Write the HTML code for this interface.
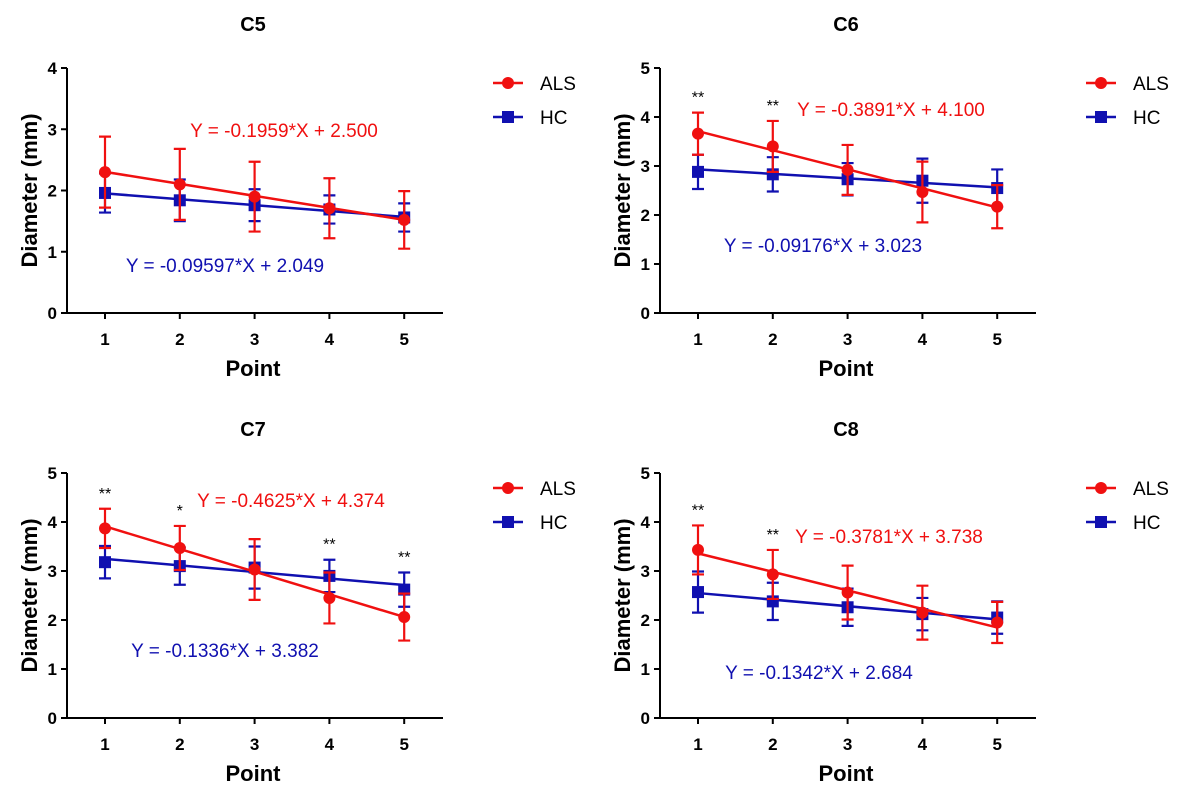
<!DOCTYPE html>
<html><head><meta charset="utf-8"><style>
body{margin:0;background:#fff;width:1183px;height:798px;overflow:hidden}
svg text{font-family:"Liberation Sans",Arial,sans-serif}
</style></head><body>
<svg id="fig" width="1183" height="798"></svg>
<script>
const points = [1,2,3,4,5];
const c5Als = [2.30,2.10,1.90,1.71,1.52];
const c5AlsSd = [0.58,0.58,0.57,0.49,0.47];
const c5Hc = [1.96,1.84,1.76,1.69,1.56];
const c5HcSd = [0.32,0.34,0.26,0.23,0.23];
const c6Als = [3.66,3.40,2.92,2.47,2.17];
const c6AlsSd = [0.43,0.52,0.51,0.62,0.44];
const c6Hc = [2.88,2.83,2.73,2.70,2.55];
const c6HcSd = [0.35,0.35,0.33,0.45,0.38];
const c7Als = [3.87,3.47,3.03,2.45,2.06];
const c7AlsSd = [0.40,0.45,0.62,0.52,0.48];
const c7Hc = [3.18,3.10,3.07,2.90,2.62];
const c7HcSd = [0.33,0.38,0.43,0.33,0.35];
const c8Als = [3.43,2.93,2.56,2.15,1.95];
const c8AlsSd = [0.50,0.50,0.55,0.55,0.42];
const c8Hc = [2.57,2.38,2.26,2.12,2.05];
const c8HcSd = [0.42,0.38,0.38,0.33,0.33];
const slopesAls = [-0.1959,-0.3891,-0.4625,-0.3781];
const interceptsAls = [2.500,4.100,4.374,3.738];
const slopesHc = [-0.09597,-0.09176,-0.1336,-0.1342];
const interceptsHc = [2.049,3.023,3.382,2.684];
const eqAls = ["Y = -0.1959*X + 2.500","Y = -0.3891*X + 4.100","Y = -0.4625*X + 4.374","Y = -0.3781*X + 3.738"];
const eqHc = ["Y = -0.09597*X + 2.049","Y = -0.09176*X + 3.023","Y = -0.1336*X + 3.382","Y = -0.1342*X + 2.684"];
const titles = ["C5","C6","C7","C8"];
const yMaxes = [4,5,5,5];
const stars = [["","","","",""],["**","**","","",""],["**","*","","**","**"],["**","**","","",""]];

const svg=document.getElementById('fig');
const NS='http://www.w3.org/2000/svg';
function el(tag,attrs,parent,txt){const e=document.createElementNS(NS,tag);for(const k in attrs)e.setAttribute(k,attrs[k]);if(txt!==undefined)e.textContent=txt;(parent||svg).appendChild(e);return e;}

const panels=[
 {ox:67,top:68,bot:313,als:c5Als,alsSd:c5AlsSd,hc:c5Hc,hcSd:c5HcSd,eqA:[284,137],eqH:[225,272]},
 {ox:660,top:68,bot:313,als:c6Als,alsSd:c6AlsSd,hc:c6Hc,hcSd:c6HcSd,eqA:[891,116],eqH:[823,252]},
 {ox:67,top:473,bot:718,als:c7Als,alsSd:c7AlsSd,hc:c7Hc,hcSd:c7HcSd,eqA:[291,507],eqH:[225,657]},
 {ox:660,top:473,bot:718,als:c8Als,alsSd:c8AlsSd,hc:c8Hc,hcSd:c8HcSd,eqA:[889,543],eqH:[819,679]}
];
panels.forEach((p,i)=>{
 const g=el('g',{});
 
 
 const ymax=yMaxes[i];
 const X=v=>p.ox+38+(v-1)*74.8;
 const Y=v=>p.bot-(v/ymax)*(p.bot-p.top);
 const t=el('text',{x:p.ox+186,y:p.top-37,'font-size':20,'font-weight':'bold','text-anchor':'middle'},g,titles[i]);
 
 const ax=el('path',{d:`M${p.ox} ${p.top}V${p.bot}H${p.ox+376}`,stroke:'#000','stroke-width':2,fill:'none'},g);
 
 for(let v=0;v<=ymax;v++){
  el('line',{x1:p.ox-6,x2:p.ox,y1:Y(v),y2:Y(v),stroke:'#000','stroke-width':2},g);
  const tl=el('text',{x:p.ox-10,y:Y(v)+6,'font-size':17,'font-weight':'bold','text-anchor':'end'},g,String(v));
  
 }
 points.forEach(v=>{
  el('line',{x1:X(v),x2:X(v),y1:p.bot,y2:p.bot+6,stroke:'#000','stroke-width':2},g);
  const tl=el('text',{x:X(v),y:p.bot+32,'font-size':17,'font-weight':'bold','text-anchor':'middle'},g,String(v));
  
 });
 const xt=el('text',{x:p.ox+186,y:p.bot+63,'font-size':22,'font-weight':'bold','text-anchor':'middle'},g,'Point');
 
 const cy=(p.top+p.bot)/2;
 const yt=el('text',{x:0,y:0,'font-size':22,'font-weight':'bold','text-anchor':'middle',transform:`translate(${p.ox-30},${cy}) rotate(-90)`},g,'Diameter (mm)');
 
 [['hc','#1010b0',slopesHc[i],interceptsHc[i]],['als','#f01010',slopesAls[i],interceptsAls[i]]].forEach(([s,col,m,b])=>{
  const vals=p[s],sd=p[s+'Sd'];
  const fit=el('line',{x1:X(1),x2:X(5),y1:Y(m*1+b),y2:Y(m*5+b),stroke:col,'stroke-width':2.5},g);
  
  points.forEach((pt,k)=>{
   const x=X(pt);
   const eb=el('path',{d:`M${x} ${Y(vals[k]-sd[k])}V${Y(vals[k]+sd[k])}M${x-6} ${Y(vals[k]-sd[k])}h12M${x-6} ${Y(vals[k]+sd[k])}h12`,stroke:col,'stroke-width':2.2,fill:'none'},g);
   
   let mk;
   if(s==='als') mk=el('circle',{cx:x,cy:Y(vals[k]),r:6,fill:col},g);
   else mk=el('rect',{x:x-6,y:Y(vals[k])-6,width:12,height:12,fill:col},g);
   
  });
 });
 points.forEach((pt,k)=>{
  if(!stars[i][k])return;
  const top=Math.max(p.als[k]+p.alsSd[k],p.hc[k]+p.hcSd[k]);
  const st=el('text',{x:X(pt),y:Y(top)-10,'font-size':16,'text-anchor':'middle'},g,stars[i][k]);
  
 });
 const ea=el('text',{x:p.eqA[0],y:p.eqA[1],'font-size':19,fill:'#f01010','text-anchor':'middle'},g,eqAls[i]);
 
 const eh=el('text',{x:p.eqH[0],y:p.eqH[1],'font-size':19,fill:'#1010b0','text-anchor':'middle'},g,eqHc[i]);
 
 const lx=p.ox+426, ly=p.top+15;
 [['ALS','#f01010',0],['HC','#1010b0',34]].forEach(([name,col,dy])=>{
  const lg=el('g',{},g);
  
  el('line',{x1:lx,x2:lx+30,y1:ly+dy,y2:ly+dy,stroke:col,'stroke-width':2.5},lg);
  if(name==='ALS')el('circle',{cx:lx+15,cy:ly+dy,r:6,fill:col},lg);
  else el('rect',{x:lx+9,y:ly+dy-6,width:12,height:12,fill:col},lg);
  el('text',{x:lx+47,y:ly+dy+7,'font-size':19},lg,name);
 });
});
</script>
</body></html>
